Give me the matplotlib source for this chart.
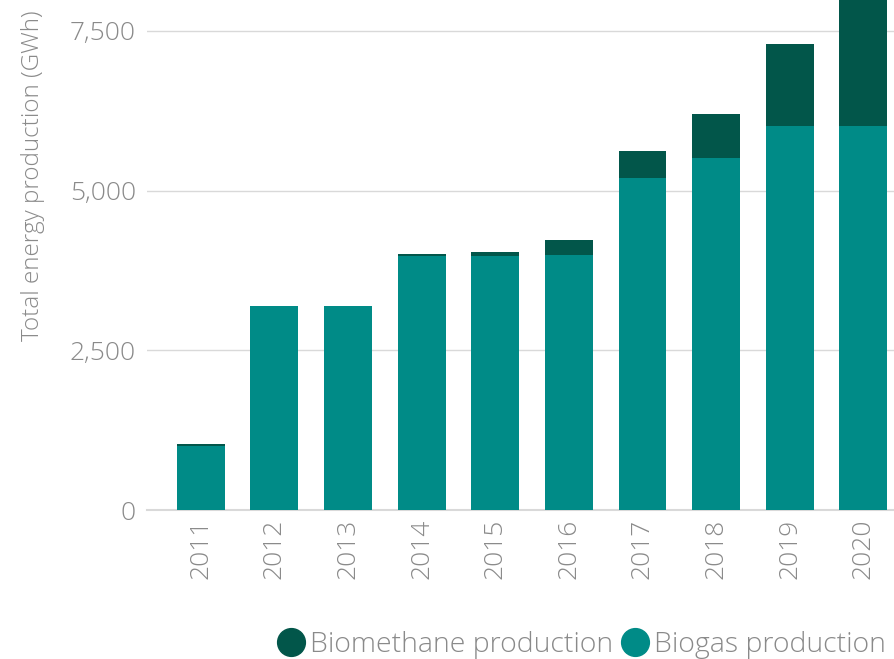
import matplotlib
matplotlib.use("Agg")
import matplotlib.pyplot as plt
from matplotlib.lines import Line2D
from matplotlib.ticker import FuncFormatter

years = ["2011", "2012", "2013", "2014", "2015", "2016", "2017", "2018", "2019", "2020"]
biogas = [1000, 3190, 3190, 3970, 3970, 3985, 5205, 5515, 6015, 6015]
biomethane = [30, 0, 0, 45, 75, 235, 420, 690, 1280, 2500]

c_biogas = "#008B87"
c_biomethane = "#02564A"
c_text = "#8a8a8a"
c_grid = "#d9d9d9"

plt.rcParams['font.family'] = ['Open Sans', 'DejaVu Sans']

fig = plt.figure(figsize=(8.95, 6.59), dpi=100)
ax = fig.add_axes([147/895, 1 - 510/659, 1 - 147/895, 510/659])

x = list(range(len(years)))
ax.bar(x, biogas, width=0.65, color=c_biogas, zorder=3)
ax.bar(x, biomethane, width=0.65, bottom=biogas, color=c_biomethane, zorder=3)

ax.set_xlim(-0.73, 9.43)
ax.set_ylim(0, 7984)
ax.set_yticks([0, 2500, 5000, 7500])
ax.yaxis.set_major_formatter(FuncFormatter(lambda v, p: f"{int(v):,}"))
ax.set_xticks(x)
ax.set_xticklabels(years, rotation=90)
ax.grid(axis='y', color=c_grid, linewidth=1, zorder=0)
ax.tick_params(axis='both', length=0, colors=c_text, labelsize=19)
ax.tick_params(axis='y', pad=8)
ax.tick_params(axis='x', pad=6)
for lbl in ax.get_xticklabels() + ax.get_yticklabels():
    lbl.set_fontweight('light')
for s in ['top', 'right', 'left']:
    ax.spines[s].set_visible(False)
ax.spines['bottom'].set_color(c_grid)
ax.spines['bottom'].set_linewidth(1.5)

ax.set_ylabel("Total energy production (GWh)", color=c_text, fontsize=17.5, fontweight='light')
ax.yaxis.set_label_coords(-0.137, 0.655)

handles = [
    Line2D([], [], marker='o', linestyle='none', markersize=20, color=c_biomethane, label='Biomethane production'),
    Line2D([], [], marker='o', linestyle='none', markersize=20, color=c_biogas, label='Biogas production'),
]
leg = fig.legend(handles=handles, loc='lower right', bbox_to_anchor=(1.012, -0.03), ncol=2, frameon=False,
                 fontsize=20.5, handletextpad=0.15, columnspacing=0.3, handlelength=1.0, borderpad=0.2)
for t in leg.get_texts():
    t.set_color(c_text)
    t.set_fontweight('light')

fig.savefig("out.png", dpi=100)
